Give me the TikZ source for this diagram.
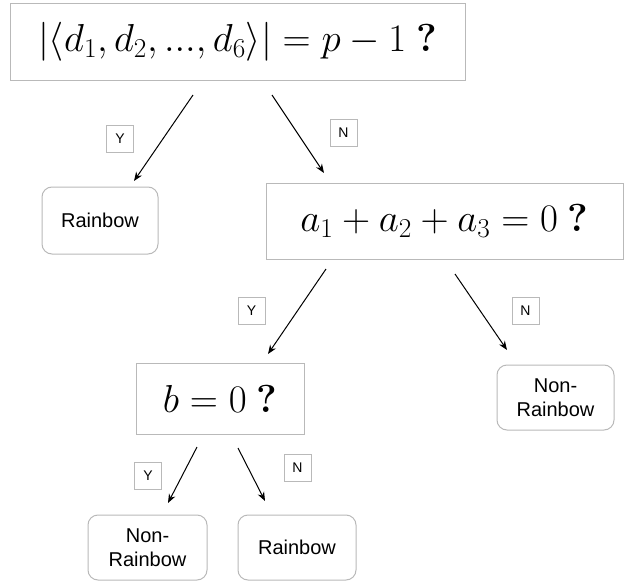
\RequirePackage{fix-cm}
\documentclass[tikz,border=0pt]{standalone}
\usepackage{fontspec}
\newfontfamily\hv{Liberation Sans}
\usetikzlibrary{arrows.meta}
\definecolor{bordc}{RGB}{185,185,185}
\begin{document}
\begin{tikzpicture}[x=1pt,y=-1pt,
  qbox/.style={draw=bordc,line width=1pt,inner sep=0pt,font=\fontsize{39}{46}\selectfont},
  leaf/.style={draw=bordc,line width=1pt,rounded corners=10pt,inner sep=0pt,align=center,font=\hv\fontsize{20}{24}\selectfont},
  yn/.style={draw=bordc,line width=0.8pt,inner sep=0pt,minimum width=27pt,minimum height=27pt,font=\hv\fontsize{14}{16}\selectfont},
  arr/.style={line width=1pt,-{Stealth[length=9pt,width=7pt]}}]
\useasboundingbox (0,0) rectangle (625,581);
% question boxes
\node[qbox,minimum width=455pt,minimum height=77pt] (q1) at (237.5,41.5) {$|\langle d_1, d_2, ..., d_6\rangle| = p-1$\hspace{0.25em}\textbf{?}};
\node[qbox,minimum width=357pt,minimum height=76pt] (q2) at (444.5,221) {$a_1+a_2+a_3=0$\hspace{0.25em}\textbf{?}};
\node[qbox,minimum width=168pt,minimum height=71pt] (q3) at (220,398.5) {$b=0$\hspace{0.25em}\textbf{?}};
% leaves
\node[leaf,minimum width=116pt,minimum height=67pt] (r1) at (100,220.5) {Rainbow};
\node[leaf,minimum width=117pt,minimum height=65pt] (nr1) at (555.5,397.5) {Non-\\Rainbow};
\node[leaf,minimum width=119pt,minimum height=65pt] (nr2) at (147.5,547.5) {Non-\\Rainbow};
\node[leaf,minimum width=118pt,minimum height=65pt] (r2) at (297,547.5) {Rainbow};
% labels
\node[yn] (y1) at (120,139) {Y};
\node[yn] (n1) at (343.5,133) {N};
\node[yn] (y2) at (251.5,311) {Y};
\node[yn] (n2) at (525.5,310.5) {N};
\node[yn] (y3) at (148,475.5) {Y};
\node[yn] (n3) at (297.5,468) {N};
% arrow endpoints
\coordinate (a1s) at (193,95);  \coordinate (a1e) at (134,181);
\coordinate (a2s) at (272,95);  \coordinate (a2e) at (324,173);
\coordinate (a3s) at (326,269); \coordinate (a3e) at (268,354);
\coordinate (a4s) at (455,274); \coordinate (a4e) at (507,350);
\coordinate (a5s) at (197,447); \coordinate (a5e) at (168,503);
\coordinate (a6s) at (238,448); \coordinate (a6e) at (265,501);
\draw[arr] (a1s) -- (a1e);
\draw[arr] (a2s) -- (a2e);
\draw[arr] (a3s) -- (a3e);
\draw[arr] (a4s) -- (a4e);
\draw[arr] (a5s) -- (a5e);
\draw[arr] (a6s) -- (a6e);
\end{tikzpicture}
\end{document}
